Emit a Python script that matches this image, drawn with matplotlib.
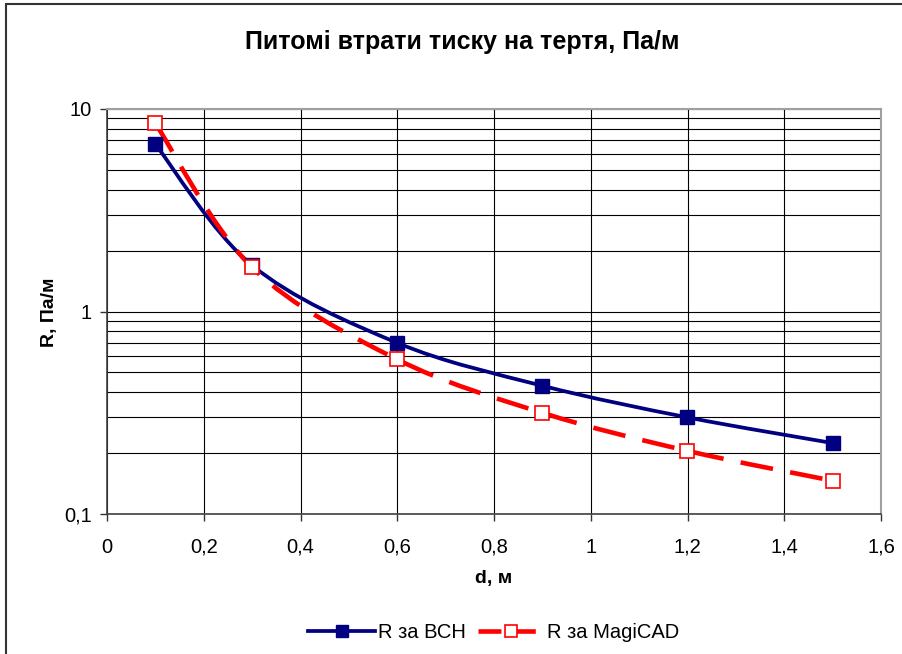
import numpy as np
import matplotlib
matplotlib.use("Agg")
import matplotlib.pyplot as plt
from matplotlib.path import Path
from matplotlib.patches import PathPatch, Rectangle
from matplotlib.lines import Line2D
from matplotlib.ticker import FixedLocator, FuncFormatter, NullFormatter

# ---------------------------------------------------------------
# data
# ---------------------------------------------------------------
d_values = [0.1, 0.3, 0.6, 0.9, 1.2, 1.5]
r_vsn = [6.7, 1.69, 0.70, 0.43, 0.30, 0.224]
r_magicad = [8.5, 1.65, 0.58, 0.316, 0.205, 0.146]

TITLE = "Питомі втрати тиску на тертя, Па/м"
XLABEL = "d, м"
YLABEL = "R, Па/м"
LABEL_VSN = "R за ВСН"
LABEL_MAGICAD = "R за MagiCAD"

NAVY = "#000080"
RED = "#FF0000"
RED_DASH = (0, (7.2, 3.8))

plt.rcParams.update({
    "font.family": ["Liberation Sans", "DejaVu Sans"],
    "font.size": 14.5,
})


def smooth_path(xs, ys):
    # Excel-like smoothed line: cubic Bezier segments built in (x, log10 y)
    lx = np.asarray(xs, float)
    ly = np.log10(np.asarray(ys, float))
    pts = np.column_stack([lx, ly])
    n = len(pts)
    verts = [pts[0]]
    codes = [Path.MOVETO]
    for i in range(n - 1):
        p0 = pts[i - 1] if i > 0 else pts[i]
        p1 = pts[i]
        p2 = pts[i + 1]
        p3 = pts[i + 2] if i + 2 < n else pts[i + 1]
        c1 = p1 + (p2 - p0) / 6.0
        c2 = p2 - (p3 - p1) / 6.0
        verts += [c1, c2, p2]
        codes += [Path.CURVE4] * 3
    verts = np.array(verts)
    verts[:, 1] = 10 ** verts[:, 1]
    return Path(verts, codes)


fig = plt.figure(figsize=(9.03, 6.54), dpi=100)
ax = fig.add_axes([107 / 903, 1 - 514 / 654, (881 - 107) / 903, (514 - 109) / 654])

# outer chart border (cropped on right/bottom)
fig.patches.append(Rectangle((6 / 903, -0.1), 1.2, 1 - 4 / 654 + 0.1,
                             transform=fig.transFigure, fill=False,
                             edgecolor="#333333", linewidth=1.5))

ax.set_yscale("log")
ax.set_xlim(0, 1.6)
ax.set_ylim(0.1, 10)

# grid
ax.xaxis.set_major_locator(FixedLocator(np.arange(0, 1.61, 0.2)))
ax.yaxis.set_major_locator(FixedLocator([0.1, 1, 10]))
minor = [k * 10.0 ** e for e in (-1, 0) for k in range(2, 10)]
ax.yaxis.set_minor_locator(FixedLocator(minor))
ax.yaxis.set_minor_formatter(NullFormatter())
ax.grid(True, which="major", color="black", linewidth=0.8)
ax.grid(True, which="minor", axis="y", color="black", linewidth=0.8)
ax.set_axisbelow(True)

ax.xaxis.set_major_formatter(FuncFormatter(lambda v, p: f"{v:g}".replace(".", ",")))
ax.yaxis.set_major_formatter(FuncFormatter(lambda v, p: f"{v:g}".replace(".", ",")))
ax.tick_params(which="major", direction="out", length=5, width=1, color="#333333",
               labelsize=14.5)
ax.tick_params(axis="x", pad=12)
ax.tick_params(axis="y", pad=6)
ax.tick_params(which="minor", length=0)

for side in ("left", "bottom"):
    ax.spines[side].set_color("#404040")
    ax.spines[side].set_linewidth(1.2)
for side in ("top", "right"):
    ax.spines[side].set_color("#A0A0A0")
    ax.spines[side].set_linewidth(1.5)

# series
ax.add_patch(PathPatch(smooth_path(d_values, r_vsn), fill=False,
                       edgecolor=NAVY, linewidth=2.7, zorder=3))
ax.plot(d_values, r_vsn, linestyle="none", marker="s", markersize=10.5,
        markerfacecolor=NAVY, markeredgecolor=NAVY, zorder=4)

ax.add_patch(PathPatch(smooth_path(d_values, r_magicad), fill=False,
                       edgecolor=RED, linewidth=3.3, linestyle=RED_DASH,
                       capstyle="butt", zorder=3))
ax.plot(d_values, r_magicad, linestyle="none", marker="s", markersize=10,
        markerfacecolor="white", markeredgecolor=RED, markeredgewidth=1.2,
        zorder=4)

# text
fig.text(462 / 903, 1 - 42 / 654, TITLE, ha="center", va="center",
         fontsize=18, fontweight="bold")
fig.text(494 / 903, 1 - 578 / 654, XLABEL, ha="center", va="center",
         fontsize=14, fontweight="bold")
fig.text(50 / 903, 1 - 312 / 654, YLABEL, ha="center", va="center",
         rotation=90, fontsize=14, fontweight="bold")

# legend
h1 = Line2D([], [], color=NAVY, linewidth=2.7, marker="s", markersize=8.5,
            markerfacecolor=NAVY, markeredgecolor=NAVY)
h2 = Line2D([], [], color=RED, linewidth=3.3, linestyle=(0, (5, 2.5)), marker="s",
            markersize=8.5, markerfacecolor="white", markeredgecolor=RED,
            markeredgewidth=1.2)
fig.legend([h1, h2], [LABEL_VSN, LABEL_MAGICAD], loc="center",
           bbox_to_anchor=(494 / 903, 1 - 633 / 654), ncol=2, frameon=False,
           fontsize=14.5, handlelength=3.3, handletextpad=0.15, columnspacing=0.6)

fig.savefig("out.png", dpi=100)
